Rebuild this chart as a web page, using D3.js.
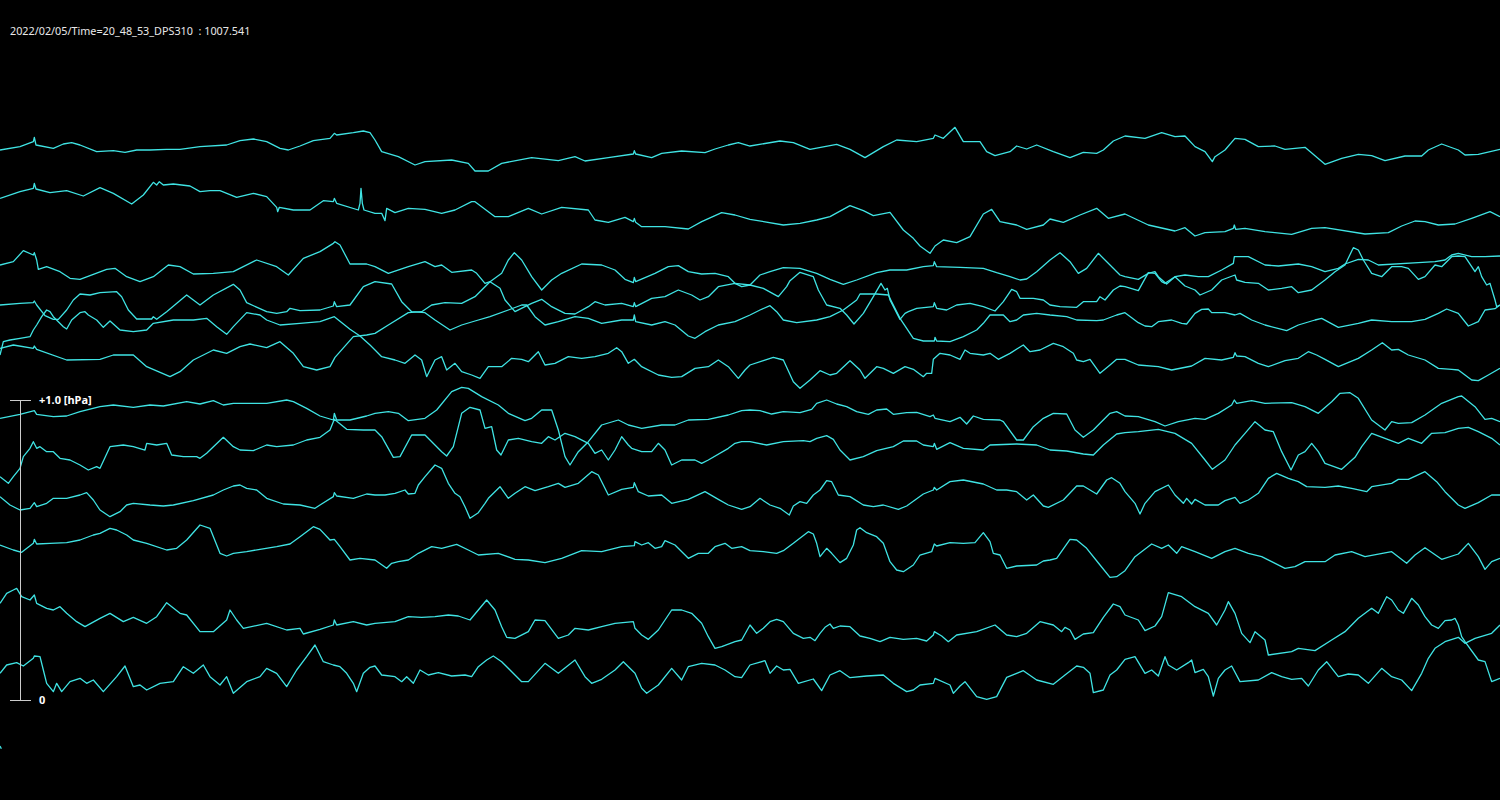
<!DOCTYPE html>
<html>
<head>
<meta charset="utf-8">
<script src="https://cdn.jsdelivr.net/npm/d3@7"></script>
<style>
html,body{margin:0;padding:0;background:#000;}
svg{display:block;}
</style>
</head>
<body>
<svg id="chart" width="1500" height="800"></svg>
<script>
// ---- data: time in samples (0..4500 per row), pressure in counts (900 counts = 1 hPa, 0 = scale zero) ----
const titleText = "2022/02/05/Time=20_48_53_DPS310  : 1007.541";
const scaleTopLabel = "+1.0 [hPa]";
const scaleBottomLabel = "0";
const countsPerHpa = 900;
const samplesPerRow = 4500;

const traceA = [[0,1650],[60,1660],[100,1675],[103,1688],[108,1665],[160,1655],[190,1668],[215,1672],[240,1665],[290,1645],[340,1648],[375,1643],[410,1650],[450,1650],[500,1652],[540,1652],[600,1660],[680,1665],[720,1678],[760,1683],[800,1675],[840,1655],[865,1650],[900,1662],[940,1678],[990,1685],[1003,1700],[1010,1695],[1060,1702],[1090,1707],[1110,1702],
[1125,1680],[1145,1645],[1195,1630],[1245,1605],[1275,1615],[1355,1620],[1405,1610],[1425,1587],[1465,1587],[1505,1610],[1595,1627],[1675,1618],[1725,1630],[1755,1617],[1825,1627],[1900,1638],[1903,1648],[1907,1638],[1955,1627],[1985,1640],[2045,1647],[2115,1642],[2145,1653],[2185,1665],[2215,1672],
[2250,1662],[2340,1677],[2380,1672],[2430,1652],[2510,1667],[2550,1652],[2595,1627],[2650,1660],[2690,1680],[2750,1675],[2800,1685],[2805,1695],[2830,1685],[2865,1718],[2890,1675],[2940,1675],[2960,1645],[2985,1633],[3030,1645],[3050,1662],[3080,1653],[3110,1665],[3160,1645],[3210,1627],[3250,1643],[3290,1640],[3310,1650],[3340,1677],
[3375,1692],[3435,1685],[3485,1702],[3525,1690],[3555,1692],[3585,1660],[3615,1645],[3637,1615],[3645,1630],[3675,1650],[3705,1685],[3735,1682],[3775,1660],[3825,1662],[3855,1652],[3915,1658],[3975,1607],[4025,1625],[4075,1637],[4115,1633],[4155,1618],[4215,1632],[4265,1632],[4285,1650],[4325,1668],[4375,1650],[4395,1635],[4435,1637],[4500,1652]];

const traceB = [[0,1505],[60,1525],[100,1535],[103,1550],[108,1533],[150,1522],[200,1528],[250,1512],[300,1537],[340,1520],[395,1488],[430,1515],[460,1553],[470,1545],[478,1555],[490,1545],[520,1548],[570,1542],[600,1525],[630,1528],[660,1528],[710,1508],[760,1520],[800,1510],[830,1478],[833,1465],[838,1478],[880,1470],[930,1470],[970,1498],[1000,1495],[1003,1505],[1010,1490],[1075,1470],[1080,1490],[1083,1535],[1087,1490],[1092,1470],
[1125,1460],[1145,1460],[1155,1438],[1160,1475],[1185,1462],[1225,1475],[1275,1472],[1325,1460],[1365,1470],[1415,1495],[1425,1495],[1485,1450],[1525,1450],[1585,1475],[1625,1458],[1685,1478],[1765,1470],[1785,1440],[1825,1433],[1875,1448],[1900,1435],[1903,1445],[1907,1433],[1925,1420],[1995,1420],[2065,1413],[2105,1435],[2165,1462],[2205,1455],
[2250,1442],[2350,1425],[2400,1430],[2450,1440],[2490,1450],[2550,1483],[2590,1468],[2620,1453],[2670,1463],[2710,1410],[2740,1385],[2760,1362],[2790,1340],[2805,1362],[2830,1380],[2870,1372],[2910,1390],[2950,1458],[2975,1472],[3000,1435],[3050,1425],[3080,1412],[3130,1425],[3150,1443],[3190,1433],[3240,1455],[3290,1475],[3325,1445],
[3375,1458],[3445,1425],[3525,1407],[3555,1417],[3585,1392],[3615,1402],[3675,1405],[3700,1415],[3703,1425],[3707,1412],[3735,1415],[3795,1405],[3875,1397],[3935,1415],[3975,1417],[4095,1398],[4165,1402],[4205,1422],[4245,1437],[4275,1435],[4315,1425],[4365,1428],[4415,1445],[4470,1465],[4500,1450]];

const traceC = [[0,1305],[40,1315],[70,1348],[100,1335],[103,1342],[110,1320],[115,1292],[140,1300],[180,1285],[210,1265],[240,1262],[320,1292],[345,1295],[380,1270],[420,1255],[460,1270],[505,1305],[540,1300],[580,1278],[640,1280],[700,1285],[770,1320],[830,1300],[865,1275],[910,1325],[960,1345],[1000,1370],[1005,1375],[1020,1365],[1050,1308],[1100,1308],
[1125,1300],[1165,1280],[1225,1300],[1275,1315],[1305,1300],[1325,1305],[1355,1283],[1415,1290],[1430,1280],[1455,1250],[1470,1255],[1500,1235],[1515,1200],[1545,1165],[1575,1180],[1595,1190],[1625,1202],[1655,1180],[1695,1160],[1725,1158],[1765,1180],[1785,1195],[1815,1185],[1865,1190],[1900,1180],[1903,1192],[1907,1180],[1955,1205],[1995,1210],[2035,1230],[2075,1215],[2100,1200],[2125,1210],[2155,1240],[2205,1250],
[2250,1245],[2280,1275],[2310,1285],[2350,1297],[2400,1295],[2450,1280],[2490,1262],[2530,1247],[2570,1260],[2630,1282],[2670,1290],[2720,1290],[2770,1300],[2800,1303],[2803,1315],[2810,1300],[2880,1298],[2950,1295],[2990,1282],[3030,1270],[3060,1260],[3080,1263],[3110,1285],[3150,1320],[3180,1342],[3210,1315],[3235,1280],[3260,1295],[3295,1340],[3330,1305],[3360,1275],
[3375,1270],[3415,1262],[3445,1280],[3465,1285],[3475,1270],[3500,1248],[3525,1270],[3555,1242],[3585,1230],[3600,1215],[3635,1230],[3665,1260],[3705,1275],[3710,1260],[3735,1253],[3775,1250],[3805,1230],[3845,1235],[3875,1240],[3895,1222],[3935,1230],[3975,1260],[4005,1285],[4035,1305],[4060,1357],[4075,1350],[4090,1320],[4115,1280],[4145,1270],[4165,1290],[4175,1300],[4205,1300],[4225,1295],[4255,1262],[4275,1270],[4305,1305],[4325,1300],[4355,1330],[4375,1332],[4395,1330],[4415,1300],[4425,1285],[4435,1300],[4445,1270],[4460,1245],[4470,1250],[4485,1200],[4490,1180],[4500,1185]];

const traceD = [[0,1185],[60,1190],[100,1192],[103,1197],[110,1185],[135,1153],[160,1142],[175,1142],[200,1170],[220,1200],[240,1218],[270,1215],[300,1222],[350,1225],[365,1210],[385,1170],[410,1143],[455,1143],[460,1150],[470,1142],[500,1165],[560,1215],[600,1185],[640,1215],[700,1247],[720,1230],[740,1192],[800,1165],[830,1160],[860,1165],[870,1175],[900,1168],[960,1170],[1000,1182],[1003,1195],[1010,1180],[1050,1185],[1090,1240],
[1125,1255],[1175,1248],[1205,1195],[1235,1165],[1275,1162],[1305,1140],[1350,1110],[1385,1125],[1425,1137],[1470,1150],[1525,1170],[1565,1185],[1580,1185],[1605,1150],[1635,1125],[1675,1135],[1725,1150],[1765,1145],[1805,1130],[1865,1140],[1900,1140],[1903,1155],[1907,1135],[1955,1125],[1995,1135],[2025,1125],[2065,1092],[2085,1085],[2115,1105],[2155,1125],[2205,1135],
[2250,1155],[2280,1170],[2310,1183],[2330,1165],[2350,1140],[2390,1132],[2450,1140],[2490,1150],[2530,1170],[2570,1200],[2580,1218],[2630,1218],[2665,1215],[2675,1195],[2700,1145],[2740,1085],[2770,1077],[2803,1077],[2805,1088],[2810,1077],[2850,1075],[2890,1090],[2930,1110],[2950,1130],[2970,1155],[3010,1155],[3030,1135],[3050,1140],[3070,1155],[3110,1160],[3150,1155],[3200,1150],[3230,1140],[3290,1138],[3310,1140],[3350,1155],
[3375,1162],[3415,1132],[3435,1122],[3455,1120],[3475,1135],[3515,1140],[3545,1130],[3560,1128],[3585,1160],[3605,1172],[3625,1173],[3635,1162],[3675,1162],[3705,1155],[3720,1160],[3755,1140],[3795,1125],[3860,1108],[3895,1125],[3945,1140],[3965,1145],[4015,1118],[4075,1130],[4115,1140],[4175,1135],[4235,1135],[4275,1142],[4315,1160],[4340,1173],[4375,1160],[4405,1122],[4435,1135],[4455,1170],[4485,1174],[4500,1185]];

const traceE = [[0,1055],[40,1065],[100,1055],[103,1062],[110,1052],[200,1020],[300,1022],[340,1035],[400,1035],[440,1000],[510,970],[540,985],[580,1020],[640,1050],[680,1040],[720,1060],[750,1068],[800,1057],[840,1075],[880,1040],[910,1000],[950,990],[990,1000],[1005,1028],[1060,1090],[1100,1095],
[1125,1100],[1165,1125],[1225,1162],[1265,1165],[1295,1185],[1335,1192],[1385,1190],[1425,1210],[1470,1255],[1505,1280],[1525,1320],[1543,1342],[1565,1320],[1595,1270],[1625,1230],[1655,1260],[1685,1280],[1745,1308],[1805,1305],[1845,1290],[1875,1262],[1900,1252],[1903,1268],[1907,1255],[1965,1280],[2005,1300],[2035,1303],[2065,1285],[2105,1278],[2145,1280],[2185,1270],[2205,1250],[2225,1240],
[2250,1245],[2290,1235],[2335,1210],[2360,1240],[2370,1258],[2400,1283],[2440,1270],[2455,1230],[2480,1185],[2520,1175],[2540,1155],[2562,1128],[2590,1160],[2620,1210],[2643,1250],[2655,1230],[2662,1235],[2670,1200],[2700,1142],[2715,1160],[2725,1165],[2750,1175],[2800,1180],[2803,1192],[2810,1175],[2840,1170],[2870,1185],[2910,1190],[2950,1180],[2985,1167],[3010,1195],[3035,1232],[3050,1225],[3060,1205],[3100,1205],[3130,1200],[3150,1185],[3180,1180],[3230,1178],[3250,1195],[3290,1195],[3300,1210],[3315,1200],[3340,1230],[3360,1242],
[3375,1240],[3415,1228],[3445,1282],[3465,1280],[3485,1255],[3495,1250],[3525,1270],[3555,1275],[3595,1270],[3625,1270],[3665,1290],[3700,1310],[3703,1330],[3745,1330],[3795,1305],[3835,1302],[3895,1308],[3935,1300],[3975,1285],[4015,1295],[4035,1308],[4075,1322],[4105,1320],[4135,1305],[4255,1312],[4305,1315],[4335,1320],[4355,1335],[4375,1340],[4415,1330],[4455,1330],[4500,1332]];

const traceF = [[0,1035],[10,1075],[30,1080],[60,1085],[90,1090],[100,1110],[110,1125],[125,1150],[140,1170],[150,1165],[160,1150],[175,1135],[190,1120],[200,1113],[215,1140],[240,1162],[255,1165],[265,1155],[290,1140],[310,1118],[330,1137],[360,1110],[400,1105],[440,1110],[460,1130],[520,1140],[580,1140],[620,1145],[650,1120],[680,1097],[700,1120],[740,1162],[780,1155],[800,1140],[840,1125],[900,1130],[960,1135],[1003,1150],[1050,1112],[1080,1092],[1110,1065],
[1125,1050],[1145,1030],[1185,1020],[1215,1010],[1245,1035],[1265,1020],[1280,970],[1305,1020],[1325,1030],[1340,990],[1365,1010],[1385,985],[1415,975],[1440,965],[1465,1000],[1505,1000],[1535,1025],[1565,1022],[1585,1015],[1615,1045],[1635,1005],[1665,1010],[1705,1030],[1745,1025],[1785,1030],[1825,1040],[1850,1057],[1865,1045],[1885,1010],[1903,1022],[1925,1000],[1975,975],[2015,968],[2045,970],[2085,995],[2125,1000],[2155,1020],[2185,1000],[2215,965],[2235,990],
[2250,1005],[2290,1018],[2320,1028],[2350,1020],[2380,955],[2400,935],[2430,960],[2460,988],[2490,975],[2510,980],[2550,1018],[2580,990],[2595,965],[2630,1000],[2650,995],[2680,980],[2715,1000],[2740,992],[2770,970],[2780,980],[2795,980],[2800,1022],[2820,1040],[2850,1035],[2880,1022],[2895,1050],[2910,1040],[2950,1035],[2970,1040],[2995,1022],[3030,1040],[3070,1065],[3090,1045],[3120,1050],[3160,1070],[3190,1060],[3220,1040],[3230,1020],[3250,1015],[3270,1022],[3300,980],[3330,1005],[3350,1022],
[3375,1022],[3415,1005],[3475,1000],[3515,990],[3575,1002],[3615,1025],[3665,1020],[3700,1028],[3705,1042],[3710,1032],[3735,1030],[3775,1010],[3805,1000],[3855,1018],[3895,1025],[3925,1045],[3950,1035],[3975,1022],[4015,1000],[4075,1025],[4115,1050],[4147,1072],[4175,1050],[4195,1052],[4225,1035],[4275,1020],[4315,995],[4355,992],[4375,990],[4415,960],[4435,958],[4465,975],[4500,995]];

const traceG = [[0,845],[60,857],[103,868],[110,857],[160,850],[200,852],[240,865],[300,880],[340,885],[400,878],[450,885],[490,882],[560,895],[600,888],[640,898],[670,885],[700,890],[800,890],[860,900],[880,895],[920,875],[960,852],[1000,840],[1003,860],[1010,840],[1050,840],[1100,852],
[1125,860],[1165,865],[1195,860],[1225,838],[1275,845],[1310,870],[1355,925],[1385,938],[1405,935],[1445,910],[1495,885],[1525,860],[1575,838],[1595,845],[1625,870],[1655,870],[1675,810],[1695,730],[1710,705],[1735,745],[1765,775],[1805,825],[1855,840],[1885,825],[1905,820],[1925,815],[1985,825],[2025,825],[2065,840],[2125,842],[2185,855],[2225,868],
[2250,870],[2280,868],[2315,858],[2350,865],[2400,862],[2435,872],[2450,890],[2480,900],[2510,888],[2540,880],[2570,865],[2605,857],[2630,870],[2660,873],[2680,857],[2720,862],[2750,863],[2790,850],[2800,855],[2805,845],[2850,835],[2880,848],[2900,828],[2920,852],[2950,842],[3000,840],[3010,835],[3050,780],[3070,780],[3100,820],[3130,845],[3160,860],[3200,858],[3225,810],[3250,788],[3280,810],[3300,830],[3330,860],[3350,865],
[3375,852],[3415,850],[3465,835],[3495,822],[3535,835],[3585,845],[3615,842],[3655,860],[3695,885],[3703,900],[3710,890],[3755,898],[3795,890],[3875,892],[3915,880],[3955,860],[3995,895],[4020,920],[4050,922],[4075,905],[4115,840],[4155,810],[4175,835],[4195,830],[4235,832],[4275,855],[4325,890],[4375,910],[4385,912],[4425,880],[4455,842],[4475,845],[4500,835]];

const traceH = [[0,670],[25,650],[40,670],[60,695],[70,730],[90,755],[100,775],[110,755],[120,760],[140,745],[160,745],[180,725],[210,720],[240,705],[265,690],[290,700],[300,695],[330,760],[370,765],[400,760],[435,750],[440,770],[470,765],[500,770],[515,735],[550,730],[590,730],[600,725],[620,740],[670,788],[700,760],[720,750],[760,748],[800,765],[830,760],[880,765],[920,780],[960,788],[990,810],[1003,842],[1040,812],[1090,810],
[1125,810],[1145,790],[1180,728],[1200,730],[1235,795],[1275,795],[1325,745],[1340,732],[1360,760],[1385,860],[1410,878],[1440,870],[1455,815],[1475,820],[1490,750],[1503,735],[1525,780],[1555,785],[1595,775],[1625,770],[1645,790],[1665,780],[1695,800],[1725,790],[1765,770],[1785,740],[1805,750],[1825,720],[1845,750],[1865,790],[1885,765],[1895,755],[1925,745],[1955,745],[1975,770],[1995,750],[2015,705],[2045,720],[2085,720],[2105,710],[2125,720],[2185,755],[2205,770],[2225,775],
[2250,775],[2300,765],[2350,775],[2410,778],[2430,775],[2450,785],[2480,793],[2500,782],[2520,750],[2550,720],[2590,730],[2630,748],[2680,760],[2710,777],[2750,777],[2770,765],[2800,760],[2803,770],[2810,752],[2850,772],[2890,755],[2950,750],[2970,765],[3050,768],[3110,765],[3150,750],[3200,747],[3250,738],[3280,735],[3310,765],[3350,798],
[3375,802],[3415,805],[3475,812],[3525,800],[3575,770],[3615,720],[3637,692],[3675,720],[3705,765],[3735,800],[3765,835],[3795,810],[3820,805],[3845,745],[3873,690],[3895,735],[3915,745],[3935,770],[3955,745],[3975,710],[4025,692],[4065,728],[4085,760],[4115,800],[4155,785],[4195,770],[4225,785],[4265,770],[4295,800],[4335,802],[4375,815],[4405,818],[4435,805],[4475,785],[4500,765]];

const traceI = [[0,610],[30,585],[60,570],[90,575],[103,592],[110,580],[140,590],[160,605],[200,605],[240,615],[260,622],[280,600],[300,570],[330,550],[360,565],[380,585],[400,590],[450,585],[490,582],[520,585],[580,598],[640,615],[670,630],[700,642],[720,645],[740,635],[770,630],[800,605],[850,588],[900,585],[945,575],[960,585],[1000,610],[1003,622],[1010,612],[1060,605],[1100,618],
[1125,615],[1155,615],[1185,620],[1215,630],[1225,618],[1245,620],[1255,645],[1275,670],[1305,705],[1325,695],[1345,650],[1365,620],[1380,610],[1395,580],[1410,545],[1435,562],[1455,590],[1465,605],[1500,640],[1525,605],[1545,620],[1575,640],[1605,628],[1645,640],[1675,650],[1695,638],[1735,650],[1775,685],[1795,675],[1825,615],[1865,632],[1900,638],[1903,652],[1915,625],[1945,612],[1985,615],[2015,590],[2065,602],[2115,625],[2155,602],[2185,585],[2225,572],
[2250,580],[2280,605],[2310,585],[2340,575],[2368,555],[2380,582],[2400,595],[2420,590],[2440,615],[2460,630],[2480,658],[2495,655],[2515,615],[2550,610],[2590,585],[2620,580],[2650,585],[2695,572],[2720,582],[2770,618],[2800,630],[2803,638],[2810,630],[2850,655],[2890,660],[2950,648],[2990,630],[3020,630],[3050,625],[3080,600],[3100,615],[3130,582],[3145,578],[3190,600],[3230,642],[3250,642],[3290,618],[3320,660],[3335,667],[3360,650],
[3375,625],[3405,590],[3420,558],[3435,590],[3465,625],[3505,645],[3525,615],[3550,590],[3560,605],[3575,588],[3585,602],[3615,585],[3655,585],[3675,598],[3705,608],[3720,590],[3745,600],[3775,620],[3805,665],[3830,680],[3865,665],[3895,655],[3920,640],[3975,638],[4015,642],[4055,635],[4100,625],[4115,640],[4175,650],[4195,662],[4225,662],[4275,685],[4310,655],[4335,625],[4375,585],[4395,575],[4435,592],[4475,615],[4500,615]];

const traceJ = [[0,465],[40,450],[65,443],[100,470],[103,482],[110,468],[150,470],[200,472],[240,480],[280,495],[300,500],[330,515],[350,510],[380,495],[400,480],[440,470],[500,450],[530,455],[560,480],[600,525],[630,515],[660,440],[680,432],[700,440],[740,445],[780,452],[830,460],[870,468],[900,490],[940,520],[960,512],[990,480],[1003,482],[1020,460],[1050,420],[1080,425],
[1125,420],[1160,395],[1175,410],[1195,415],[1225,420],[1255,440],[1295,460],[1325,455],[1370,467],[1405,450],[1435,435],[1495,440],[1545,422],[1585,420],[1635,412],[1685,425],[1745,448],[1805,445],[1865,460],[1903,463],[1905,475],[1925,465],[1945,472],[1965,455],[1985,460],[1995,478],[2025,465],[2065,425],[2095,440],[2125,440],[2145,460],[2175,470],[2195,455],[2225,460],
[2250,448],[2290,445],[2330,440],[2350,448],[2380,470],[2425,505],[2440,498],[2450,470],[2460,430],[2480,455],[2495,440],[2520,412],[2540,425],[2560,465],[2570,510],[2580,517],[2600,502],[2630,490],[2650,470],[2670,415],[2690,390],[2710,385],[2740,405],[2760,435],[2795,445],[2803,468],[2810,462],[2850,472],[2890,470],[2925,472],[2950,502],[2970,475],[2980,440],[3000,435],[3020,395],[3050,402],[3110,405],[3130,417],[3150,420],[3170,425],[3210,482],[3230,480],[3260,455],[3300,405],[3330,368],[3350,370],
[3375,388],[3405,430],[3455,468],[3485,455],[3505,465],[3530,440],[3545,460],[3585,445],[3635,425],[3675,445],[3705,455],[3745,440],[3785,430],[3815,415],[3855,395],[3885,400],[3915,415],[3975,415],[4005,435],[4055,445],[4095,430],[4175,445],[4220,410],[4245,435],[4275,457],[4325,422],[4375,438],[4405,470],[4435,430],[4455,392],[4475,415],[4500,425]];

const traceK = [[0,290],[20,320],[40,330],[50,335],[65,310],[90,300],[103,315],[110,290],[140,275],[160,270],[180,280],[200,260],[230,235],[255,220],[300,245],[330,260],[370,235],[400,248],[440,230],[470,250],[500,292],[540,260],[560,255],[600,205],[640,205],[680,240],[690,270],[710,240],[730,215],[800,230],[860,210],[900,215],[910,198],[960,212],[1000,225],[1003,240],[1010,225],[1060,235],[1100,225],
[1125,230],[1185,235],[1225,250],[1265,248],[1305,250],[1345,255],[1375,252],[1410,240],[1435,270],[1460,300],[1485,270],[1505,220],[1520,188],[1545,185],[1585,205],[1605,240],[1635,238],[1675,185],[1705,195],[1725,215],[1765,210],[1805,220],[1845,230],[1900,235],[1905,215],[1925,195],[1945,182],[1975,210],[2015,270],[2045,270],[2075,260],[2105,230],[2125,190],[2145,155],[2165,160],[2205,175],[2225,180],
[2250,225],[2270,200],[2290,215],[2310,235],[2330,242],[2350,235],[2380,200],[2410,185],[2430,188],[2445,178],[2460,200],[2475,218],[2490,228],[2500,215],[2520,222],[2550,220],[2580,192],[2610,185],[2640,175],[2670,188],[2710,182],[2750,185],[2780,177],[2800,195],[2803,205],[2825,192],[2845,175],[2870,195],[2930,205],[2985,225],[3020,195],[3050,190],[3080,200],[3120,235],[3160,225],[3185,205],[3195,218],[3210,210],[3225,182],[3250,198],[3280,202],[3310,248],[3340,288],[3360,280],
[3375,255],[3415,240],[3435,208],[3465,222],[3485,250],[3505,322],[3545,310],[3585,280],[3625,260],[3650,225],[3675,270],[3685,295],[3705,260],[3725,200],[3750,172],[3765,205],[3795,180],[3805,135],[3875,145],[3895,155],[3945,148],[3995,180],[4035,205],[4075,245],[4115,275],[4135,260],[4160,310],[4175,300],[4195,270],[4210,260],[4235,305],[4255,285],[4275,250],[4295,225],[4315,215],[4335,238],[4355,240],[4365,245],[4375,225],[4385,190],[4395,175],[4435,120],[4455,115],[4475,55],[4500,65]];

const traceL = [[0,80],[20,105],[50,112],[70,102],[100,125],[103,132],[120,130],[130,90],[140,50],[160,25],[170,50],[185,25],[210,55],[240,65],[260,50],[280,60],[310,25],[350,70],[375,102],[400,40],[420,45],[440,30],[480,50],[520,55],[550,100],[580,80],[610,105],[630,70],[660,45],[680,70],[700,20],[740,55],[780,70],[800,95],[830,80],[860,40],[890,90],[920,130],[945,165],[970,115],[1000,105],[1020,100],[1040,80],[1060,50],[1070,25],[1090,80],[1110,98],
[1125,102],[1145,75],[1185,70],[1205,55],[1220,70],[1240,50],[1260,90],[1285,75],[1315,82],[1355,72],[1395,75],[1415,70],[1435,100],[1460,120],[1480,132],[1505,115],[1565,55],[1585,55],[1635,110],[1675,80],[1725,120],[1755,70],[1775,50],[1805,62],[1845,90],[1870,115],[1895,90],[1905,80],[1925,35],[1940,20],[1975,45],[2015,95],[2045,60],[2065,100],[2105,110],[2145,105],[2175,90],[2205,70],[2225,67],
[2250,105],[2295,118],[2310,80],[2330,102],[2350,90],[2370,92],[2395,50],[2440,63],[2465,28],[2490,75],[2520,88],[2550,67],[2600,72],[2650,75],[2680,50],[2720,25],[2740,30],[2760,45],[2800,50],[2805,65],[2850,45],[2860,20],[2880,42],[2895,55],[2930,10],[2960,2],[2990,10],[3020,68],[3050,80],[3070,88],[3110,60],[3160,47],[3195,75],[3230,102],[3250,98],[3270,80],[3280,22],[3310,30],[3330,75],[3350,90],
[3375,122],[3405,130],[3435,80],[3455,90],[3475,72],[3495,130],[3505,105],[3530,90],[3565,112],[3575,120],[3585,82],[3610,92],[3625,70],[3640,12],[3655,65],[3675,90],[3695,102],[3720,55],[3775,60],[3815,82],[3845,70],[3875,62],[3905,65],[3925,42],[3955,90],[3980,115],[4015,70],[4045,78],[4075,75],[4105,50],[4145,95],[4175,70],[4205,60],[4235,28],[4265,80],[4285,125],[4305,155],[4335,175],[4375,188],[4395,170],[4425,185],[4475,200],[4500,225]];

const traceM = [[0,-138],[4,-146]];

const traces = [traceA, traceB, traceC, traceD, traceE, traceF, traceG, traceH, traceI, traceJ, traceK, traceL, traceM];

// ---- drawing ----
const svg = d3.select("#chart");
svg.append("rect").attr("width", 1500).attr("height", 800).attr("fill", "#000");

const x = d3.scaleLinear().domain([0, samplesPerRow]).range([0, 1500]);
const y = d3.scaleLinear().domain([0, countsPerHpa]).range([700, 400]);

const line = d3.line().x(d => x(d[0])).y(d => y(d[1]));

svg.append("g").selectAll("path").data(traces).join("path")
  .attr("d", line)
  .attr("fill", "none")
  .attr("stroke", "#3fe3e3")
  .attr("stroke-width", 1.3)
  .attr("stroke-linejoin", "round");

// scale bar (0 .. +1.0 hPa)
const bar = svg.append("g").attr("stroke", "#cccccc").attr("stroke-width", 1);
bar.append("line").attr("x1", 20.5).attr("x2", 20.5).attr("y1", y(0)).attr("y2", y(countsPerHpa));
bar.append("line").attr("x1", 10).attr("x2", 31).attr("y1", y(0) + 0.5).attr("y2", y(0) + 0.5);
bar.append("line").attr("x1", 10).attr("x2", 31).attr("y1", y(countsPerHpa) + 0.5).attr("y2", y(countsPerHpa) + 0.5);

svg.append("text").attr("x", 39).attr("y", y(countsPerHpa)).attr("dy", "0.35em")
  .attr("fill", "#ffffff").attr("font-family", "Noto Sans, sans-serif").attr("font-size", 11)
  .attr("font-weight", "bold").text(scaleTopLabel);
svg.append("text").attr("x", 39).attr("y", y(0)).attr("dy", "0.35em")
  .attr("fill", "#ffffff").attr("font-family", "Noto Sans, sans-serif").attr("font-size", 11)
  .attr("font-weight", "bold").text(scaleBottomLabel);

svg.append("text").attr("x", 10).attr("y", 35)
  .attr("fill", "#e8e8e8").attr("font-family", "Noto Sans, sans-serif").attr("font-size", 10.8)
  .attr("xml:space", "preserve").style("white-space", "pre").text(titleText);
</script>
</body>
</html>
